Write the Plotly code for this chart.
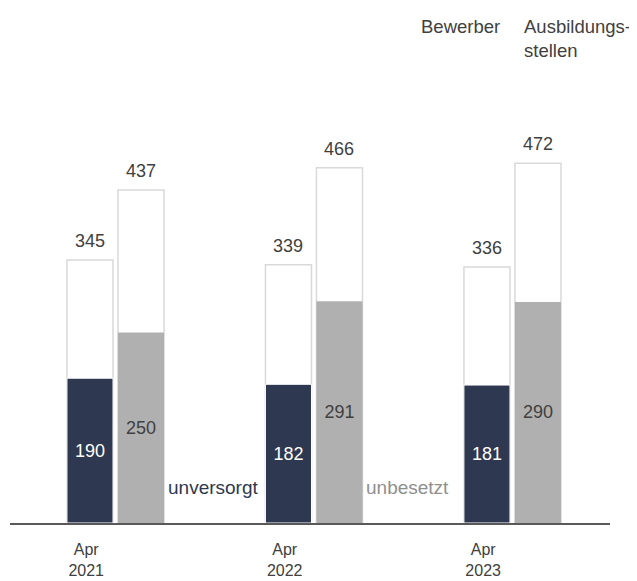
import plotly.graph_objects as go

periods = ["Apr<br>2021", "Apr<br>2022", "Apr<br>2023"]
bewerber_total = [345, 339, 336]
bewerber_unversorgt = [190, 182, 181]
stellen_total = [437, 466, 472]
stellen_unbesetzt = [250, 291, 290]

NAVY = "#2e3850"
GRAY = "#b0b0b0"
BORDER = "#d9d9d9"
TEXT = "#404040"
FONT = "Liberation Sans, Arial, sans-serif"

xs = list(range(len(periods)))
W = 0.232
OFF_B = -0.242
OFF_S = 0.015

fig = go.Figure()
# total (white) bars
fig.add_bar(x=xs, y=bewerber_total, width=W, offset=OFF_B,
            marker=dict(color="white", line=dict(color=BORDER, width=1.5)),
            hoverinfo="skip", showlegend=False)
fig.add_bar(x=xs, y=stellen_total, width=W, offset=OFF_S,
            marker=dict(color="white", line=dict(color=BORDER, width=1.5)),
            hoverinfo="skip", showlegend=False)
# filled parts
fig.add_bar(x=xs, y=bewerber_unversorgt, width=W, offset=OFF_B,
            marker=dict(color=NAVY, line=dict(color="white", width=1)),
            text=[str(v) for v in bewerber_unversorgt], textposition="inside",
            insidetextanchor="middle", textangle=0,
            textfont=dict(color="white", size=18, family=FONT),
            showlegend=False)
fig.add_bar(x=xs, y=stellen_unbesetzt, width=W, offset=OFF_S,
            marker=dict(color=GRAY, line=dict(color=GRAY, width=0)),
            text=[str(v) for v in stellen_unbesetzt], textposition="inside",
            insidetextanchor="middle", textangle=0,
            textfont=dict(color=TEXT, size=18, family=FONT),
            showlegend=False)

# top labels
for i in xs:
    fig.add_annotation(x=i + OFF_B + W / 2, y=bewerber_total[i], text=str(bewerber_total[i]),
                       showarrow=False, yanchor="bottom", yshift=7,
                       font=dict(size=18, color=TEXT, family=FONT))
    fig.add_annotation(x=i + OFF_S + W / 2, y=stellen_total[i], text=str(stellen_total[i]),
                       showarrow=False, yanchor="bottom", yshift=7,
                       font=dict(size=18, color=TEXT, family=FONT))

fig.add_annotation(x=0.494, y=46, text="unversorgt", showarrow=False,
                   font=dict(size=19, color=NAVY, family=FONT))
fig.add_annotation(x=1.476, y=46, text="unbesetzt", showarrow=False,
                   font=dict(size=19, color="#8f8f8f", family=FONT))

fig.add_annotation(xref="paper", yref="paper", x=0.751, y=1.173, text="Bewerber",
                   showarrow=False, xanchor="center", yanchor="middle",
                   font=dict(size=18.5, color=TEXT, family=FONT))
fig.add_annotation(xref="paper", yref="paper", x=0.853, y=1.145, text="Ausbildungs-<br>stellen",
                   showarrow=False, xanchor="left", yanchor="middle", align="left",
                   font=dict(size=18.5, color=TEXT, family=FONT))

fig.update_layout(
    width=637, height=581,
    margin=dict(l=2, r=35, t=92, b=66),
    barmode="overlay",
    plot_bgcolor="white", paper_bgcolor="white",
    font=dict(family=FONT, color=TEXT),
)
fig.update_xaxes(range=[-0.529, 2.494], tickvals=[i - 0.145 for i in xs], ticktext=periods,
                 showgrid=False, zeroline=False, showline=True, linecolor="#595959", linewidth=1.5,
                 ticks="", ticklabelstandoff=11, tickfont=dict(size=16, color=TEXT, family=FONT))
fig.update_yaxes(range=[0, 555], visible=False)

fig.write_html("out.html")
